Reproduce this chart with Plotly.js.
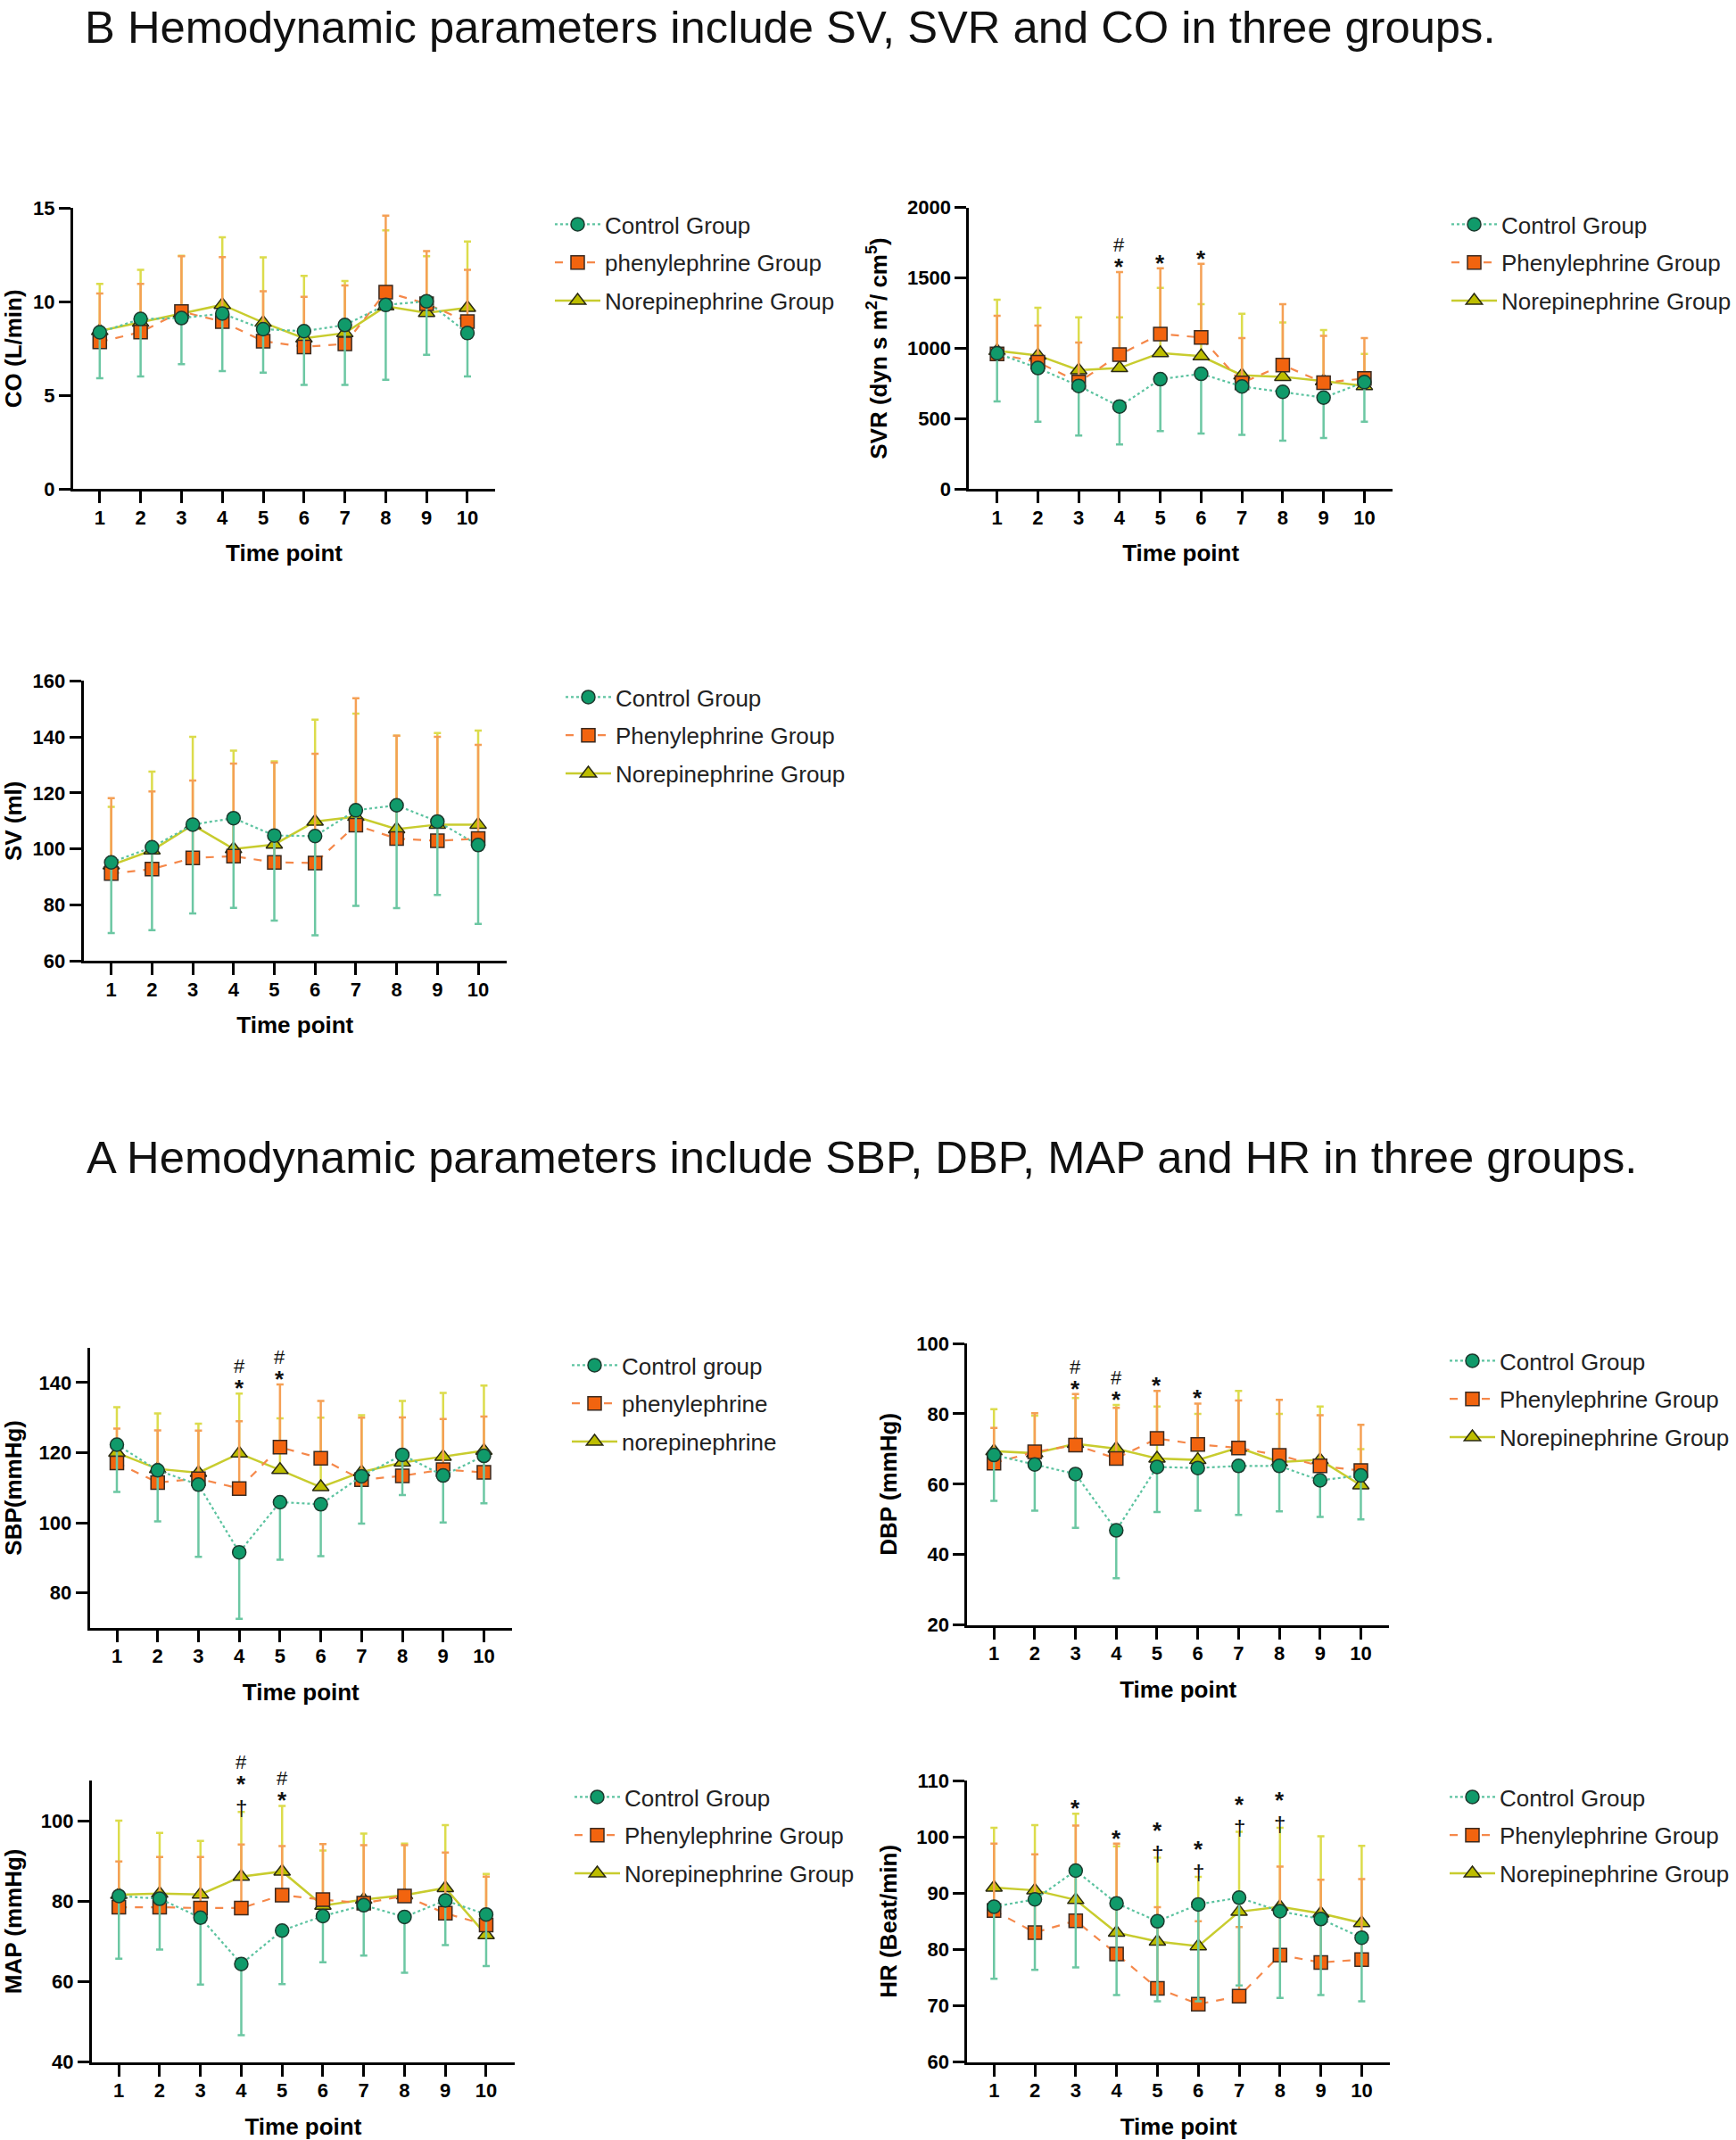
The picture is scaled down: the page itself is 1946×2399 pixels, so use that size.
<!DOCTYPE html>
<html><head><meta charset="utf-8">
<script src="https://cdn.plot.ly/plotly-3.0.1.min.js"></script>
<style>html,body{margin:0;padding:0;background:#fff;} #chart{width:1946px;height:2399px;}</style>
</head><body><div id="chart"></div>
<script>
// ---------------- DATA ----------------
const timePoints = [1,2,3,4,5,6,7,8,9,10];

const namesCO  = ['Control Group', 'phenylephrine Group', 'Norepinephrine Group'];
const namesStd = ['Control Group', 'Phenylephrine Group', 'Norepinephrine Group'];
const namesSBP = ['Control group', 'phenylephrine', 'norepinephrine'];

// CO (L/min): means, control lower SD end, drug upper SD ends
const coCtrl     = [8.37, 9.08, 9.13, 9.37, 8.54, 8.43, 8.76, 9.83, 10.03, 8.33];
const coCtrlLow  = [5.92, 6.02, 6.67, 6.30, 6.22, 5.56, 5.56, 5.84, 7.17, 6.02];
const coPhe      = [7.86, 8.38, 9.48, 8.94, 7.90, 7.59, 7.75, 10.52, 9.89, 8.94];
const coPheHigh  = [10.44, 10.95, 12.43, 12.38, 10.56, 10.27, 10.87, 14.6, 12.7, 11.7];
const coNe       = [8.44, 8.89, 9.37, 9.84, 8.89, 8.05, 8.33, 9.76, 9.41, 9.68];
const coNeHigh   = [10.95, 11.7, 12.46, 13.44, 12.37, 11.38, 11.11, 13.81, 12.43, 13.22];

// SVR (dyn s m2/cm5)
const svrCtrl    = [965, 860, 733, 587, 781, 819, 729, 691, 650, 760];
const svrCtrlLow = [623, 479, 380, 317, 412, 395, 386, 344, 363, 479];
const svrPhe     = [961, 902, 760, 955, 1102, 1077, 754, 881, 756, 786];
const svrPheHigh = [1231, 1162, 1041, 1542, 1569, 1601, 1073, 1314, 1088, 1073];
const svrNe      = [982, 950, 845, 860, 967, 944, 809, 798, 767, 733];
const svrNeHigh  = [1345, 1288, 1221, 1221, 1430, 1314, 1246, 1183, 1130, 960];

// SV (ml)
const svCtrl     = [95.2, 100.6, 108.7, 111.0, 104.8, 104.6, 113.8, 115.6, 109.8, 101.4];
const svCtrlLow  = [70.0, 71.0, 77.0, 79.0, 74.4, 69.2, 79.7, 78.9, 83.6, 73.2];
const svPhe      = [91.2, 92.8, 96.8, 97.4, 95.2, 95.0, 108.5, 103.7, 102.9, 103.7];
const svPheHigh  = [118.1, 120.5, 124.4, 130.5, 130.8, 134.0, 153.8, 140.4, 140.0, 137.2];
const svNe       = [94.2, 99.5, 108.5, 100.0, 101.6, 109.8, 111.5, 107.1, 108.7, 108.7];
const svNeHigh   = [115.0, 127.6, 140.0, 135.1, 131.3, 146.2, 148.3, 140.4, 141.4, 142.3];

// SBP (mmHg)
const sbpCtrl    = [122.3, 115.0, 110.9, 91.6, 105.9, 105.3, 113.3, 119.4, 113.5, 119.1];
const sbpCtrlLow = [108.8, 100.4, 90.3, 72.6, 89.5, 90.5, 99.8, 107.9, 100.1, 105.6];
const sbpPhe     = [117.1, 111.5, 112.6, 109.8, 121.6, 118.4, 112.3, 113.4, 115.2, 114.4];
const sbpPheHigh = [126.9, 126.4, 126.3, 129.0, 139.5, 134.8, 130.0, 130.1, 129.6, 130.3];
const sbpNe      = [120.0, 115.4, 114.3, 119.8, 115.1, 110.2, 114.5, 117.2, 118.9, 120.6];
const sbpNeHigh  = [133.0, 131.2, 128.3, 136.9, 129.8, 130.0, 130.7, 134.8, 137.1, 139.2];

// DBP (mmHg)
const dbpCtrl    = [68.3, 65.6, 62.9, 46.9, 64.9, 64.6, 65.2, 65.2, 61.1, 62.5];
const dbpCtrlLow = [55.3, 52.5, 47.6, 33.3, 52.1, 52.5, 51.3, 52.3, 50.7, 50.0];
const dbpPhe     = [66.0, 69.2, 71.1, 67.3, 73.0, 71.3, 70.3, 68.2, 65.2, 63.9];
const dbpPheHigh = [76.0, 80.2, 85.6, 81.7, 86.5, 82.9, 83.8, 84.0, 79.6, 76.9];
const dbpNe      = [69.4, 68.8, 71.5, 70.1, 67.3, 66.9, 70.4, 66.3, 66.9, 59.7];
const dbpNeHigh  = [81.3, 79.5, 84.5, 82.5, 82.1, 80.0, 86.5, 80.0, 82.1, 70.0];

// MAP (mmHg)
const mapCtrl    = [81.3, 80.6, 75.9, 64.4, 72.7, 76.3, 79.0, 76.1, 80.2, 76.7];
const mapCtrlLow = [65.7, 68.0, 59.3, 46.7, 59.4, 64.8, 66.5, 62.2, 69.1, 63.9];
const mapPhe     = [78.5, 78.5, 78.3, 78.3, 81.5, 80.4, 79.5, 81.3, 77.0, 74.1];
const mapPheHigh = [89.9, 91.0, 91.0, 94.1, 93.7, 94.2, 93.9, 93.9, 92.1, 86.1];
const mapNe      = [81.6, 81.9, 81.7, 86.1, 87.4, 78.9, 80.4, 81.5, 83.3, 71.6];
const mapNeHigh  = [100.0, 97.0, 95.0, 102.2, 103.7, 92.6, 96.8, 94.3, 98.9, 86.8];

// HR (Beat/min)
const hrCtrl     = [87.6, 88.9, 94.0, 88.2, 85.0, 88.0, 89.2, 86.8, 85.4, 82.1];
const hrCtrlLow  = [74.8, 76.4, 76.8, 71.9, 70.8, 70.8, 73.6, 71.4, 71.9, 70.8];
const hrPhe      = [86.9, 83.0, 85.1, 79.2, 73.1, 70.3, 71.7, 79.0, 77.7, 78.2];
const hrPheHigh  = [98.8, 96.9, 102.0, 98.8, 87.5, 85.0, 84.0, 94.7, 92.4, 92.5];
const hrNe       = [91.0, 90.5, 88.8, 83.0, 81.4, 80.6, 86.7, 87.6, 86.4, 84.7];
const hrNeHigh   = [101.6, 102.1, 104.1, 98.3, 96.3, 92.9, 100.9, 101.6, 100.1, 98.4];

// significance marks (listed bottom to top)
const sigSVR = [{tp:4, marks:['*','#']}, {tp:5, marks:['*']}, {tp:6, marks:['*']}];
const sigSBP = [{tp:4, marks:['*','#']}, {tp:5, marks:['*','#']}];
const sigDBP = [{tp:3, marks:['*','#']}, {tp:4, marks:['*','#']}, {tp:5, marks:['*']}, {tp:6, marks:['*']}];
const sigMAP = [{tp:4, marks:['\u2020','*','#']}, {tp:5, marks:['*','#']}];
const sigHR  = [{tp:3, marks:['*']}, {tp:4, marks:['*']}, {tp:5, marks:['\u2020','*']}, {tp:6, marks:['\u2020','*']}, {tp:7, marks:['\u2020','*']}, {tp:8, marks:['\u2020','*']}];

const titleB = 'B Hemodynamic parameters include SV, SVR and CO in three groups.';
const titleA = 'A Hemodynamic parameters include SBP, DBP, MAP and HR in three groups.';

// ---------------- LAYOUT / STYLE ----------------
const W = 1946, H = 2399;
const FONT = 'Liberation Sans, Arial, Helvetica, sans-serif';

const panels = [
  {ytitle:'CO (L/min)', yr:[0,15], yt:[0,5,10,15], px:[82,555], py:[233.3,548.3], xr:[0.349,10.677], lg:[643,253], names:namesCO,
   c:coCtrl, cl:coCtrlLow, p:coPhe, ph:coPheHigh, n:coNe, nh:coNeHigh, sig:[]},
  {ytitle:'SVR (dyn s m<sup>2</sup>/ cm<sup>5</sup>)', yr:[0,2000], yt:[0,500,1000,1500,2000], px:[1086.3,1561], py:[232.7,548.3], xr:[0.314,10.69], lg:[1648,253], names:namesStd,
   c:svrCtrl, cl:svrCtrlLow, p:svrPhe, ph:svrPheHigh, n:svrNe, nh:svrNeHigh, sig:sigSVR},
  {ytitle:'SV (ml)', yr:[60,160], yt:[60,80,100,120,140,160], px:[93.6,568], py:[763.3,1077.3], xr:[0.32,10.70], lg:[655,783], names:namesStd,
   c:svCtrl, cl:svCtrlLow, p:svPhe, ph:svPheHigh, n:svNe, nh:svNeHigh, sig:[]},
  {ytitle:'SBP(mmHg)', yr:[70,150], yt:[80,100,120,140], px:[100.6,574], py:[1510.7,1825], xr:[0.335,10.69], lg:[662,1532], names:namesSBP,
   c:sbpCtrl, cl:sbpCtrlLow, p:sbpPhe, ph:sbpPheHigh, n:sbpNe, nh:sbpNeHigh, sig:sigSBP},
  {ytitle:'DBP (mmHg)', yr:[20,100], yt:[20,40,60,80,100], px:[1084.4,1557], py:[1506,1821.7], xr:[0.348,10.69], lg:[1646,1527], names:namesStd,
   c:dbpCtrl, cl:dbpCtrlLow, p:dbpPhe, ph:dbpPheHigh, n:dbpNe, nh:dbpNeHigh, sig:sigDBP},
  {ytitle:'MAP (mmHg)', yr:[40,110], yt:[40,60,80,100], px:[102.8,577], py:[1996,2311.7], xr:[0.335,10.70], lg:[665,2016], names:namesStd,
   c:mapCtrl, cl:mapCtrlLow, p:mapPhe, ph:mapPheHigh, n:mapNe, nh:mapNeHigh, sig:sigMAP},
  {ytitle:'HR (Beat/min)', yr:[60,110], yt:[60,70,80,90,100,110], px:[1084.4,1558], py:[1996,2311.7], xr:[0.348,10.69], lg:[1646,2016], names:namesStd,
   c:hrCtrl, cl:hrCtrlLow, p:hrPhe, ph:hrPheHigh, n:hrNe, nh:hrNeHigh, sig:sigHR}
];

const sty = {
  ne:  {rank:3, line:{color:'#c8cc2e', width:2.5, dash:'solid'}, marker:{symbol:'triangle-up', size:16, color:'#bdbd00', line:{color:'#2a2a12', width:1.5}}, err:'#dcdc4c'},
  phe: {rank:2, line:{color:'#f5884a', width:2.2, dash:'dash'}, marker:{symbol:'square', size:15, color:'#f2640f', line:{color:'#3a2a20', width:1.5}}, err:'#f5a055'},
  ctrl:{rank:1, line:{color:'#5cc3a0', width:2.2, dash:'dot'}, marker:{symbol:'circle', size:15, color:'#109a6a', line:{color:'#1c3a2e', width:1.5}}, err:'#6cc7a3'}
};

// significance symbol styling: font size, weight, box height
const markSty = {
  '*':      {size:26, weight:'bold',   box: 29.0},
  '#':      {size:22, weight:'normal', box: 24.6},
  '\u2020': {size:24, weight:'normal', box: 26.8}
};

const traces = [];
const layout = {
  width: W, height: H,
  margin: {l:0, r:0, t:0, b:0},
  paper_bgcolor: '#fff', plot_bgcolor: '#fff',
  font: {family: FONT, color: '#000'},
  title: {text: titleB, x: 95/W, xanchor: 'left', xref:'container', y: 1 - 13/H, yref:'container', yanchor: 'top',
          font: {family: FONT, size: 50.7, color: '#111'}},
  annotations: [{text: titleA, xref:'paper', yref:'paper', x: 95/W, y: 1 - 1297/H,
                 xanchor:'left', yanchor:'middle', showarrow:false,
                 font:{family: FONT, size: 50.7, color:'#111'}}],
  showlegend: true
};

panels.forEach((pn, i) => {
  const sfx = i === 0 ? '' : String(i + 1);
  const xa = 'x' + sfx, ya = 'y' + sfx, leg = 'legend' + sfx;
  const zeros = timePoints.map(() => 0);
  const common = {type:'scatter', mode:'lines+markers', x: timePoints, xaxis: xa, yaxis: ya,
                  legend: leg, cliponaxis: false, hoverinfo: 'skip'};
  const mk = (key, y, up, down, name) => Object.assign({}, common, {
    y: y, name: name, legendgroup: 'g' + i + key, legendrank: sty[key].rank,
    line: sty[key].line, marker: sty[key].marker,
    error_y: {type:'data', symmetric:false, array: up, arrayminus: down,
              color: sty[key].err, thickness: 2.5, width: 4}
  });
  traces.push(mk('ne', pn.n, pn.nh.map((v,k) => v - pn.n[k]), zeros, pn.names[2]));
  traces.push(mk('phe', pn.p, pn.ph.map((v,k) => v - pn.p[k]), zeros, pn.names[1]));
  traces.push(mk('ctrl', pn.c, zeros, pn.c.map((v,k) => v - pn.cl[k]), pn.names[0]));

  const axBase = {showline:true, linecolor:'#000', linewidth:3, ticks:'outside', ticklen:13, tickwidth:3,
                  tickcolor:'#000', showgrid:false, zeroline:false, fixedrange:true,
                  tickfont:{family:FONT, size:22, color:'#000', weight:'bold'}};
  layout['xaxis' + sfx] = Object.assign({}, axBase, {
    domain: [pn.px[0]/W, pn.px[1]/W], range: pn.xr, anchor: ya,
    tickmode:'array', tickvals: timePoints, ticktext: timePoints.map(String),
    ticklabelstandoff: -3,
    title: {text:'Time point', standoff: 20, font:{family:FONT, size:26, color:'#000', weight:'bold'}}
  });
  layout['yaxis' + sfx] = Object.assign({}, axBase, {
    domain: [1 - pn.py[1]/H, 1 - pn.py[0]/H], range: pn.yr, anchor: xa,
    tickmode:'array', tickvals: pn.yt,
    title: {text: pn.ytitle, standoff: 15, font:{family:FONT, size:26, color:'#000', weight:'bold'}}
  });
  layout[leg] = {x: (pn.lg[0] - 26)/W, y: 1 - (pn.lg[1] - 25)/H, xanchor:'left', yanchor:'top',
                 bgcolor:'rgba(0,0,0,0)', borderwidth:0, itemwidth:51, tracegroupgap:6,
                 traceorder:'grouped',
                 font:{family:FONT, size:26, color:'#222'}};

  // significance marks stacked above the highest error bar (separate, non-overlapping boxes)
  pn.sig.forEach(s => {
    const k = s.tp - 1;
    const top = Math.max(pn.ph[k], pn.nh[k], pn.c[k]);
    let centre = 0;
    s.marks.forEach((m, j) => {
      const ms = markSty[m];
      if (j === 0) centre = (m === '*') ? 6 : 5;
      else centre += (markSty[s.marks[j-1]].box + ms.box) / 2 - 2;
      layout.annotations.push({
        text: m, xref: xa, yref: ya, x: s.tp, y: top, showarrow: false,
        xanchor:'center', yanchor:'middle', yshift: centre, borderpad: 0,
        font: {family: FONT, size: ms.size, color:'#111', weight: ms.weight}
      });
    });
  });
});

Plotly.newPlot('chart', traces, layout, {displayModeBar:false, staticPlot:true});
</script>
</body></html>
